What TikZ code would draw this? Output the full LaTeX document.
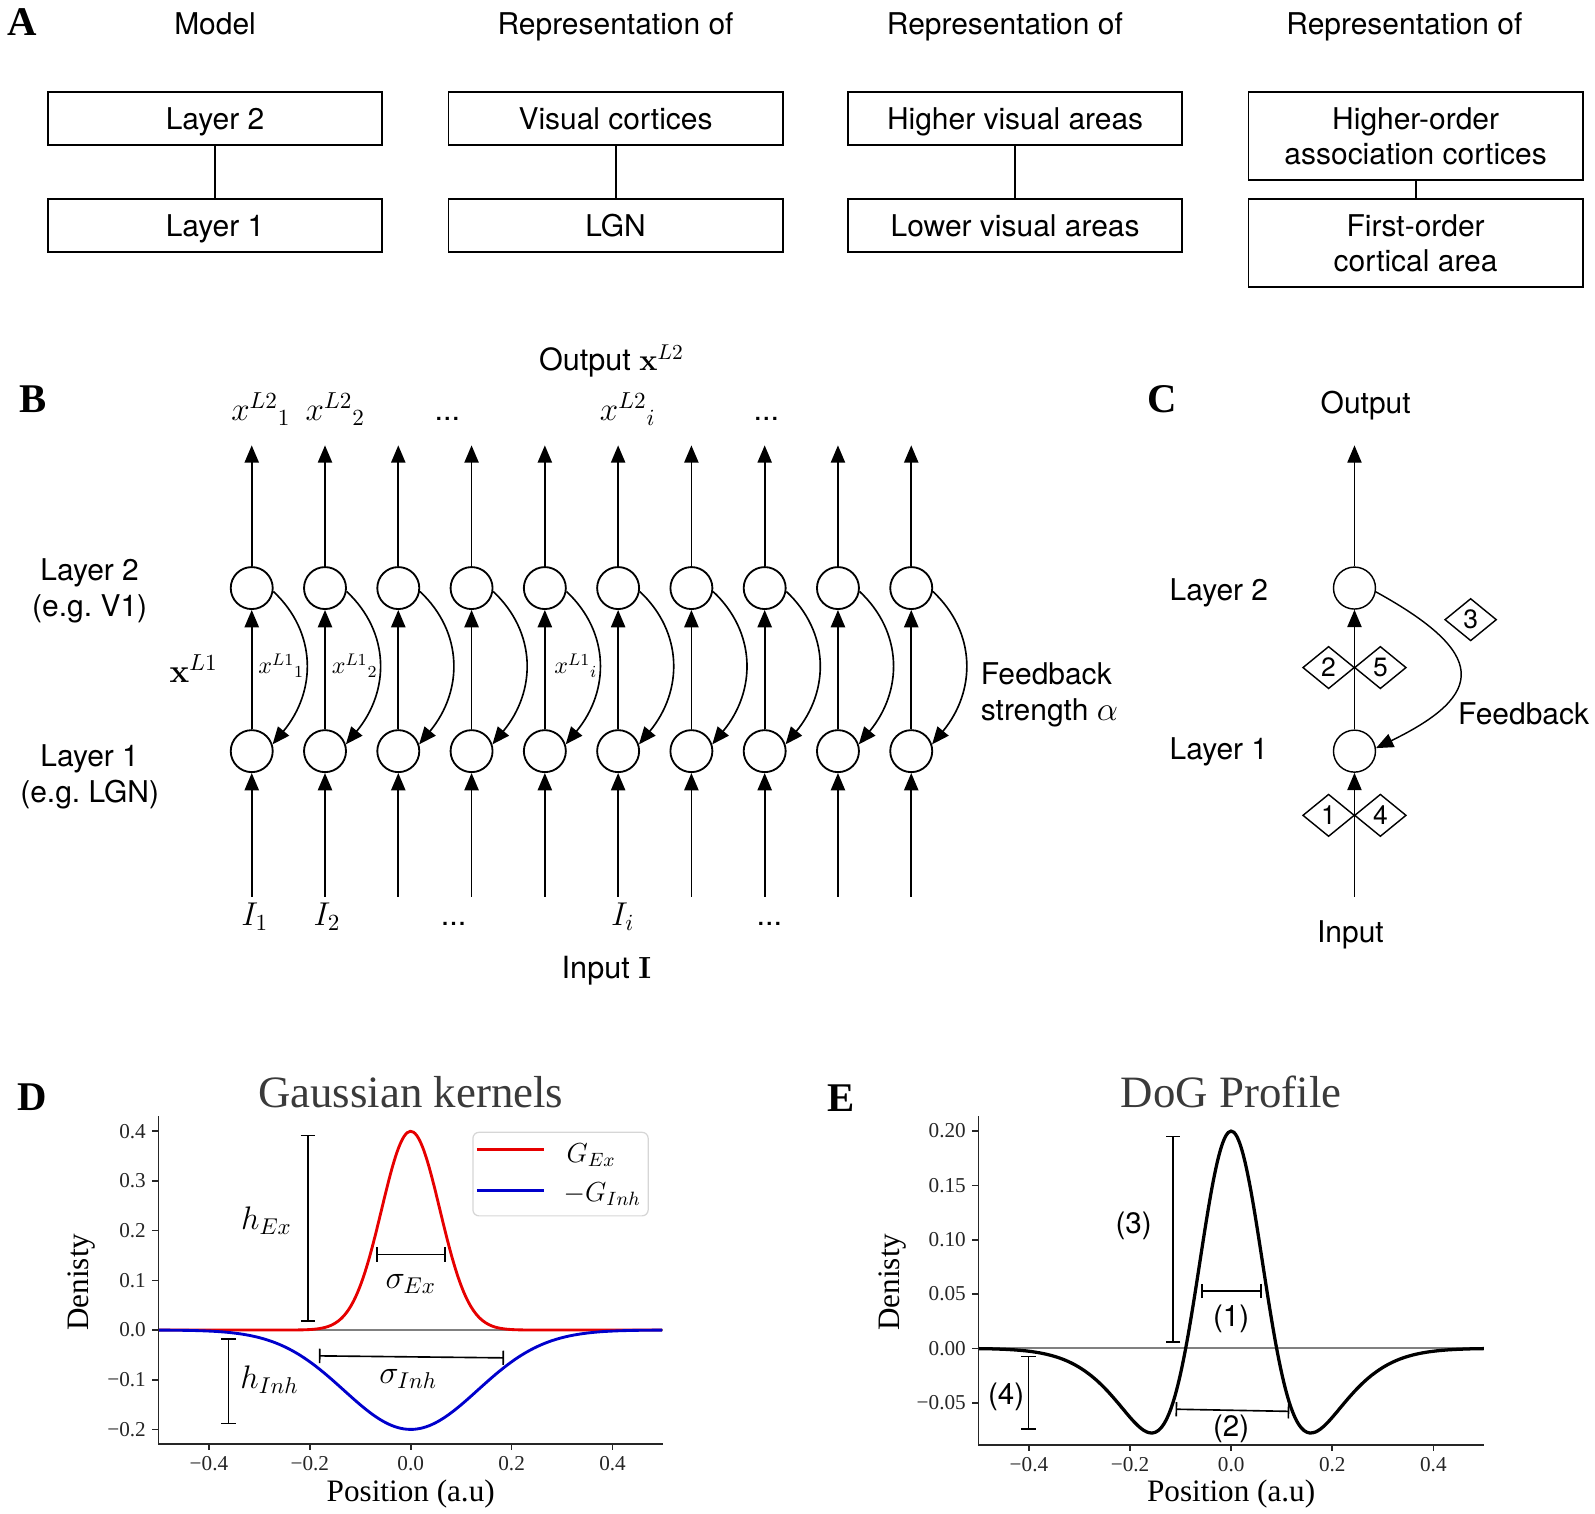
\RequirePackage{fix-cm}
\documentclass[tikz,border=0pt]{standalone}
\usepackage[no-math]{fontspec}
\setmainfont{TeX Gyre Heros}
\newfontfamily\plotfont{Liberation Serif}
\usetikzlibrary{arrows.meta,shapes.geometric}
\definecolor{titlegray}{HTML}{3A3A3A}
\definecolor{legedge}{HTML}{D6D6D6}
\definecolor{cred}{HTML}{E60000}
\definecolor{cblue}{HTML}{0000CC}
\definecolor{zgray}{HTML}{808080}
\definecolor{spine}{HTML}{262626}
\frenchspacing
\begin{document}
\begin{tikzpicture}[x=0.5pt,y=-0.5pt,
  txt/.style={font=\fontsize{14.7}{17.5}\selectfont},
  boxn/.style={draw,line width=0.9pt,minimum width=164pt,minimum height=26pt,inner sep=0pt,align=center,
     text height=10.6pt,text depth=0pt,font=\fontsize{14.7}{17}\selectfont},
  tallbox/.style={draw,line width=0.9pt,minimum width=164pt,minimum height=43.5pt,inner sep=0pt,align=center,
     font=\fontsize{14.7}{17}\selectfont},
  link/.style={line width=0.9pt},
  neuron/.style={circle,draw,line width=0.9pt,minimum size=20.6pt,inner sep=0pt},
  arr/.style={line width=0.8pt,-{Triangle[length=8.5pt,width=7pt]}},
  carr/.style={line width=0.7pt,-{Triangle[length=8.5pt,width=7pt]}},
  letter/.style={font=\plotfont\bfseries\fontsize{20}{20}\selectfont},
  mlab/.style={font=\fontsize{16.2}{19}\selectfont},
  dots/.style={font=\fontsize{15}{18}\selectfont},
  slab/.style={font=\fontsize{11.8}{13}\selectfont},
  dmd/.style={diamond,draw,line width=0.7pt,minimum width=25.4pt,minimum height=20.8pt,inner sep=0pt,
     fill=white,font=\fontsize{13}{13}\selectfont},
  tickl/.style={line width=0.8pt,spine},
  ticklab/.style={font=\plotfont\fontsize{10.4}{12}\selectfont},
  axlab/.style={font=\plotfont\fontsize{15.3}{18}\selectfont},
  ptitle/.style={font=\plotfont\fontsize{22}{24}\selectfont,text=titlegray},
  bar/.style={line width=0.8pt,{Bar[width=7pt]}-{Bar[width=7pt]}},
  anno/.style={font=\fontsize{16}{18}\selectfont},
  enote/.style={font=\fontsize{14.5}{17}\selectfont},
  spinel/.style={line width=0.8pt,spine}
]
\useasboundingbox (0,0) rectangle (1565,1485);

% ---------------- Panel A ----------------
\node[letter] (lA) at (22,22) {A};
\node[txt,anchor=base] (hA1) at (211,33.5) {Model};
\node[txt,anchor=base] (hA2) at (604,33.5) {Representation of};
\node[txt,anchor=base] (hA3) at (986,33.5) {Representation of};
\node[txt,anchor=base] (hA4) at (1378,33.5) {Representation of};

\node[boxn] (m2) at (211,116) {Layer 2};
\node[boxn] (m1) at (211,221) {Layer 1};
\draw[link] (m2) -- (m1);
\node[boxn] (v2) at (604,116) {Visual cortices};
\node[boxn] (v1) at (604,221) {LGN};
\draw[link] (v2) -- (v1);
\node[boxn] (hv2) at (996,116) {Higher visual areas};
\node[boxn] (hv1) at (996,221) {Lower visual areas};
\draw[link] (hv2) -- (hv1);
\node[tallbox] (ho2) at (1389,133.5) {Higher-order\\association cortices};
\node[tallbox] (ho1) at (1389,238.5) {First-order\\cortical area};
\draw[link] (ho2) -- (ho1);

% ---------------- Panel B ----------------
\node[letter] (lB) at (32,392) {B};
\node[mlab,anchor=base] (outB) at (600,364) {\fontsize{15}{18}\selectfont Output $\mathbf{x}^{L2}$};
\foreach \k in {0,...,9}{
  \pgfmathsetmacro\cx{247+71.9*\k}
  \node[neuron] (u\k) at (\cx,577) {};
  \node[neuron] (l\k) at (\cx,737) {};
  \coordinate (t\k) at (\cx,437);
  \coordinate (b\k) at (\cx,880);
  \draw[arr] (u\k) -- (t\k);
  \draw[arr] (l\k) -- (u\k);
  \draw[arr] (b\k) -- (l\k);
  \draw[arr] (u\k.-9) .. controls +(42.7,40) and +(43.4,-52.6) .. (l\k.18);
}
\node[mlab,anchor=base] (xo1) at (256,413) {$x^{L2}{}_{1}$};
\node[mlab,anchor=base] (xo2) at (329,413) {$x^{L2}{}_{2}$};
\node[dots,anchor=base] (xo3) at (439,413) {...};
\node[mlab,anchor=base] (xo4) at (616,413) {$x^{L2}{}_{i}$};
\node[dots,anchor=base] (xo5) at (752,413) {...};
\node[slab] (xm1) at (276,653) {$x^{L1}{}_{1}$};
\node[slab] (xm2) at (348,653) {$x^{L1}{}_{2}$};
\node[slab] (xm3) at (565,653) {$x^{L1}{}_{i}$};
\node[mlab,anchor=base] (in1) at (250,908) {$I_1$};
\node[mlab,anchor=base] (in2) at (321,908) {$I_2$};
\node[dots,anchor=base] (in3) at (445,908) {...};
\node[mlab,anchor=base] (in4) at (611,908) {$I_i$};
\node[dots,anchor=base] (in5) at (755,908) {...};
\node[mlab,anchor=base] (inB) at (595,960) {\fontsize{15}{18}\selectfont Input $\mathbf{I}$};
\node[txt,align=center] (lay2B) at (88,580) {Layer 2\\(e.g. V1)};
\node[txt,align=center] (lay1B) at (88,762) {Layer 1\\(e.g. LGN)};
\node[mlab] (xL1) at (190,656) {$\mathbf{x}^{L1}$};
\node[txt,align=left,anchor=west,inner sep=0pt] (fbB) at (962,682) {Feedback\\strength {\fontsize{16.5}{17}\selectfont$\alpha$}};

% ---------------- Panel C ----------------
\node[letter] (lC) at (1140,392) {C};
\node[txt] (outC) at (1340,398) {Output};
\node[neuron,line width=0.7pt] (c2) at (1329,577) {};
\node[neuron,line width=0.7pt] (c1) at (1329,737) {};
\coordinate (ct) at (1329,437);
\coordinate (cb) at (1329,880);
\draw[carr] (c2) -- (ct);
\draw[carr] (c1) -- (c2);
\draw[carr] (cb) -- (c1);
\draw[carr] (c2.-10) .. controls +(109,60) and +(109,-53) .. (c1.8);
\node[dmd] (d2) at (1303.6,655) {2};
\node[dmd] (d5) at (1354.4,655) {5};
\node[dmd] (d1) at (1303.6,800) {1};
\node[dmd] (d4) at (1354.4,800) {4};
\node[dmd] (d3) at (1443,608) {3};
\node[txt] (lay2C) at (1196,582) {Layer 2};
\node[txt] (lay1C) at (1196,738) {Layer 1};
\node[txt] (fbC) at (1495,700) {Feedback};
\node[txt] (inC) at (1325,917) {Input};

% ---------------- Panel D ----------------
\node[letter] (lD) at (32,1077) {D};
\node[ptitle,anchor=base] (tD) at (403,1087) {Gaussian kernels};
\begin{scope}[shift={(403,1305)},xscale=495,yscale=-487.5]
  \draw[zgray,line width=0.9pt] (-0.5,0) -- (0.5,0);
  \draw[cred,line width=1.4pt] plot[domain=-0.5:0.5,samples=161,smooth] (\x,{0.4*exp(-150*(\x)*(\x))});
  \draw[cblue,line width=1.4pt] plot[domain=-0.5:0.5,samples=161,smooth] (\x,{-0.2*exp(-28.5*(\x)*(\x))});
  \draw[bar] (-0.204,0.016) -- (-0.204,0.393);
  \draw[bar] (-0.068,0.152) -- (0.069,0.152);
  \draw[bar] (-0.361,-0.016) -- (-0.361,-0.190);
  \draw[bar] (-0.182,-0.052) -- (0.185,-0.056);
  \node[anno] (hex) at (-0.286,0.221) {$h_{Ex}$};
  \node[anno] (sex) at (0,0.093) {$\sigma_{Ex}$};
  \node[anno] (hin) at (-0.28,-0.100) {$h_{Inh}$};
  \node[anno] (sin) at (-0.005,-0.098) {$\sigma_{Inh}$};
\end{scope}
\draw[spinel] (155.5,1095) -- (155.5,1417) -- (650.5,1417);
\foreach \v/\t [count=\i] in {0.4/0.4,0.3/0.3,0.2/0.2,0.1/0.1,0.0/0.0,-0.1/{−0.1},-0.2/{−0.2}}{
  \draw[tickl] (155.5,{1305-487.5*\v}) -- +(-6,0) node[ticklab,anchor=east,inner sep=2.8pt] (dyt\i) {\t};
}
\foreach \v/\t [count=\i] in {-0.4/{−0.4},-0.2/{−0.2},0.0/0.0,0.2/0.2,0.4/0.4}{
  \draw[tickl] ({403+495*\v},1417) -- +(0,6) node[ticklab,anchor=north,inner sep=2.8pt] (dxt\i) {\t};
}
\node[axlab,rotate=90] (yD) at (80,1258) {Denisty};
\node[axlab] (xD) at (403,1466) {Position (a.u)};
\draw[legedge,line width=0.6pt,rounded corners=3pt,fill=white] (464,1111) rectangle (636,1193);
\draw[cred,line width=1.6pt] (468,1128) -- (534,1128);
\draw[cblue,line width=1.6pt] (468,1168) -- (534,1168);
\node[font=\fontsize{13.5}{15}\selectfont] (lgE) at (580,1133) {$G_{Ex}$};
\node[font=\fontsize{13.5}{15}\selectfont] (lgI) at (591,1172) {$-G_{Inh}$};

% ---------------- Panel E ----------------
\node[letter] (lE) at (825,1077) {E};
\node[ptitle,anchor=base] (tE) at (1208,1087) {DoG Profile};
\begin{scope}[shift={(1208,1323)},xscale=496,yscale=-1066]
  \draw[zgray,line width=0.9pt] (-0.5,0) -- (0.5,0);
  \draw[black,line width=1.6pt] plot[domain=-0.5:0.5,samples=181,smooth] (\x,{0.4*exp(-112.6*(\x)*(\x))-0.2*exp(-27*(\x)*(\x))});
  \draw[bar] (-0.1145,0.0049) -- (-0.1145,0.1957);
  \draw[bar] (-0.0588,0.0529) -- (0.0604,0.0529);
  \draw[bar] (-0.4008,-0.0068) -- (-0.4008,-0.075);
  \draw[bar] (-0.110,-0.0560) -- (0.115,-0.0580);
  \node[enote] (e3) at (-0.193,0.113) {(3)};
  \node[enote] (e1) at (0,0.027) {(1)};
  \node[enote] (e4) at (-0.445,-0.045) {(4)};
  \node[enote] (e2) at (0,-0.0745) {(2)};
\end{scope}
\draw[spinel] (960,1095) -- (960,1418) -- (1456,1418);
\foreach \v/\t [count=\i] in {0.20/0.20,0.15/0.15,0.10/0.10,0.05/0.05,0.00/0.00,-0.05/{−0.05}}{
  \draw[tickl] (960,{1323-1066*\v}) -- +(-6,0) node[ticklab,anchor=east,inner sep=2.8pt] (eyt\i) {\t};
}
\foreach \v/\t [count=\i] in {-0.4/{−0.4},-0.2/{−0.2},0.0/0.0,0.2/0.2,0.4/0.4}{
  \draw[tickl] ({1208+496*\v},1418) -- +(0,6) node[ticklab,anchor=north,inner sep=2.8pt] (ext\i) {\t};
}
\node[axlab,rotate=90] (yE) at (876,1258) {Denisty};
\node[axlab] (xE) at (1208,1466) {Position (a.u)};
\end{tikzpicture}
\end{document}
